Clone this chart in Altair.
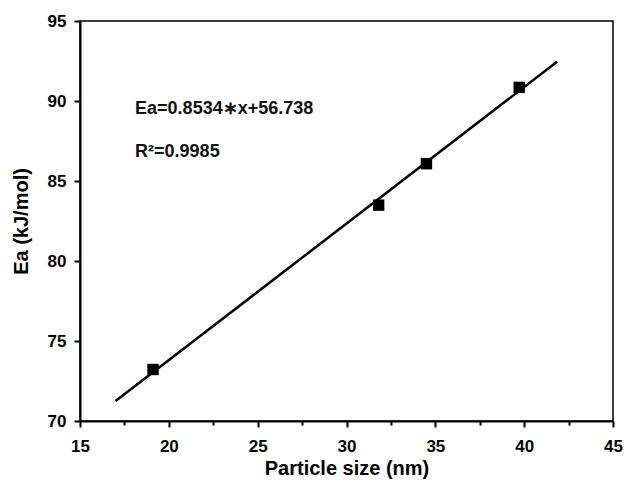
import altair as alt
import pandas as pd

size_nm = [19.11, 31.81, 34.5, 39.72]
ea_kj = [73.22, 83.49, 86.08, 90.85]

fit_x = [17.0, 41.85]
fit_y = [71.25, 92.45]

x_ticks = [15, 17.5, 20, 22.5, 25, 27.5, 30, 32.5, 35, 37.5, 40, 42.5, 45]
y_ticks = [70, 72.5, 75, 77.5, 80, 82.5, 85, 87.5, 90, 92.5, 95]

eq_text = ["Ea=0.8534\u2217x+56.738", "R\u00b2=0.9985"]
eq_x = [18.1, 18.1]
eq_y = [89.5, 86.8]

pts = pd.DataFrame({"x": size_nm, "y": ea_kj})
fit = pd.DataFrame({"x": fit_x, "y": fit_y})
ann = pd.DataFrame({"x": eq_x, "y": eq_y, "t": eq_text})

FONT = "Liberation Sans"
MAJOR = "datum.value % 5 === 0"

xs = alt.Scale(domain=[15, 45], nice=False, zero=False)
ys = alt.Scale(domain=[70, 95], nice=False, zero=False)

common = dict(
    grid=False, domainWidth=2, domainColor="black",
    tickColor="black", tickWidth=2,
    tickSize={"condition": {"test": MAJOR, "value": 6}, "value": 4},
    labelExpr=f"{MAJOR} ? datum.label : ''",
    labelFontSize=17, labelFont=FONT, labelFontWeight="bold", labelColor="black",
    titleFont=FONT, titleFontWeight="bold", titleColor="black", titleFontSize=20,
)

x_axis = alt.Axis(values=x_ticks, title="Particle size (nm)", labelPadding=11,
                  titlePadding=4, labelFlush=False, **common)
y_axis = alt.Axis(values=y_ticks, title="Ea (kJ/mol)", labelPadding=8,
                  titlePadding=16, **common)

line = alt.Chart(fit).mark_line(color="black", strokeWidth=2.5).encode(
    x=alt.X("x:Q", scale=xs, axis=x_axis),
    y=alt.Y("y:Q", scale=ys, axis=y_axis),
)

points = alt.Chart(pts).mark_point(shape="square", filled=True, color="black",
                                   size=130, opacity=1).encode(
    x=alt.X("x:Q", scale=xs),
    y=alt.Y("y:Q", scale=ys),
)

text = alt.Chart(ann).mark_text(align="left", baseline="middle", font=FONT,
                                fontWeight="bold", fontSize=18, color="#111").encode(
    x=alt.X("x:Q", scale=xs),
    y=alt.Y("y:Q", scale=ys),
    text="t:N",
)

chart = alt.layer(line, points, text).properties(
    width=533, height=400,
    autosize=alt.AutoSizeParams(type="none"),
    padding={"left": 72, "top": 13, "right": 11, "bottom": 58},
).configure_view(stroke="black", strokeWidth=1.5)

chart.save("out.html", embed_options={"renderer": "svg", "actions": False})
